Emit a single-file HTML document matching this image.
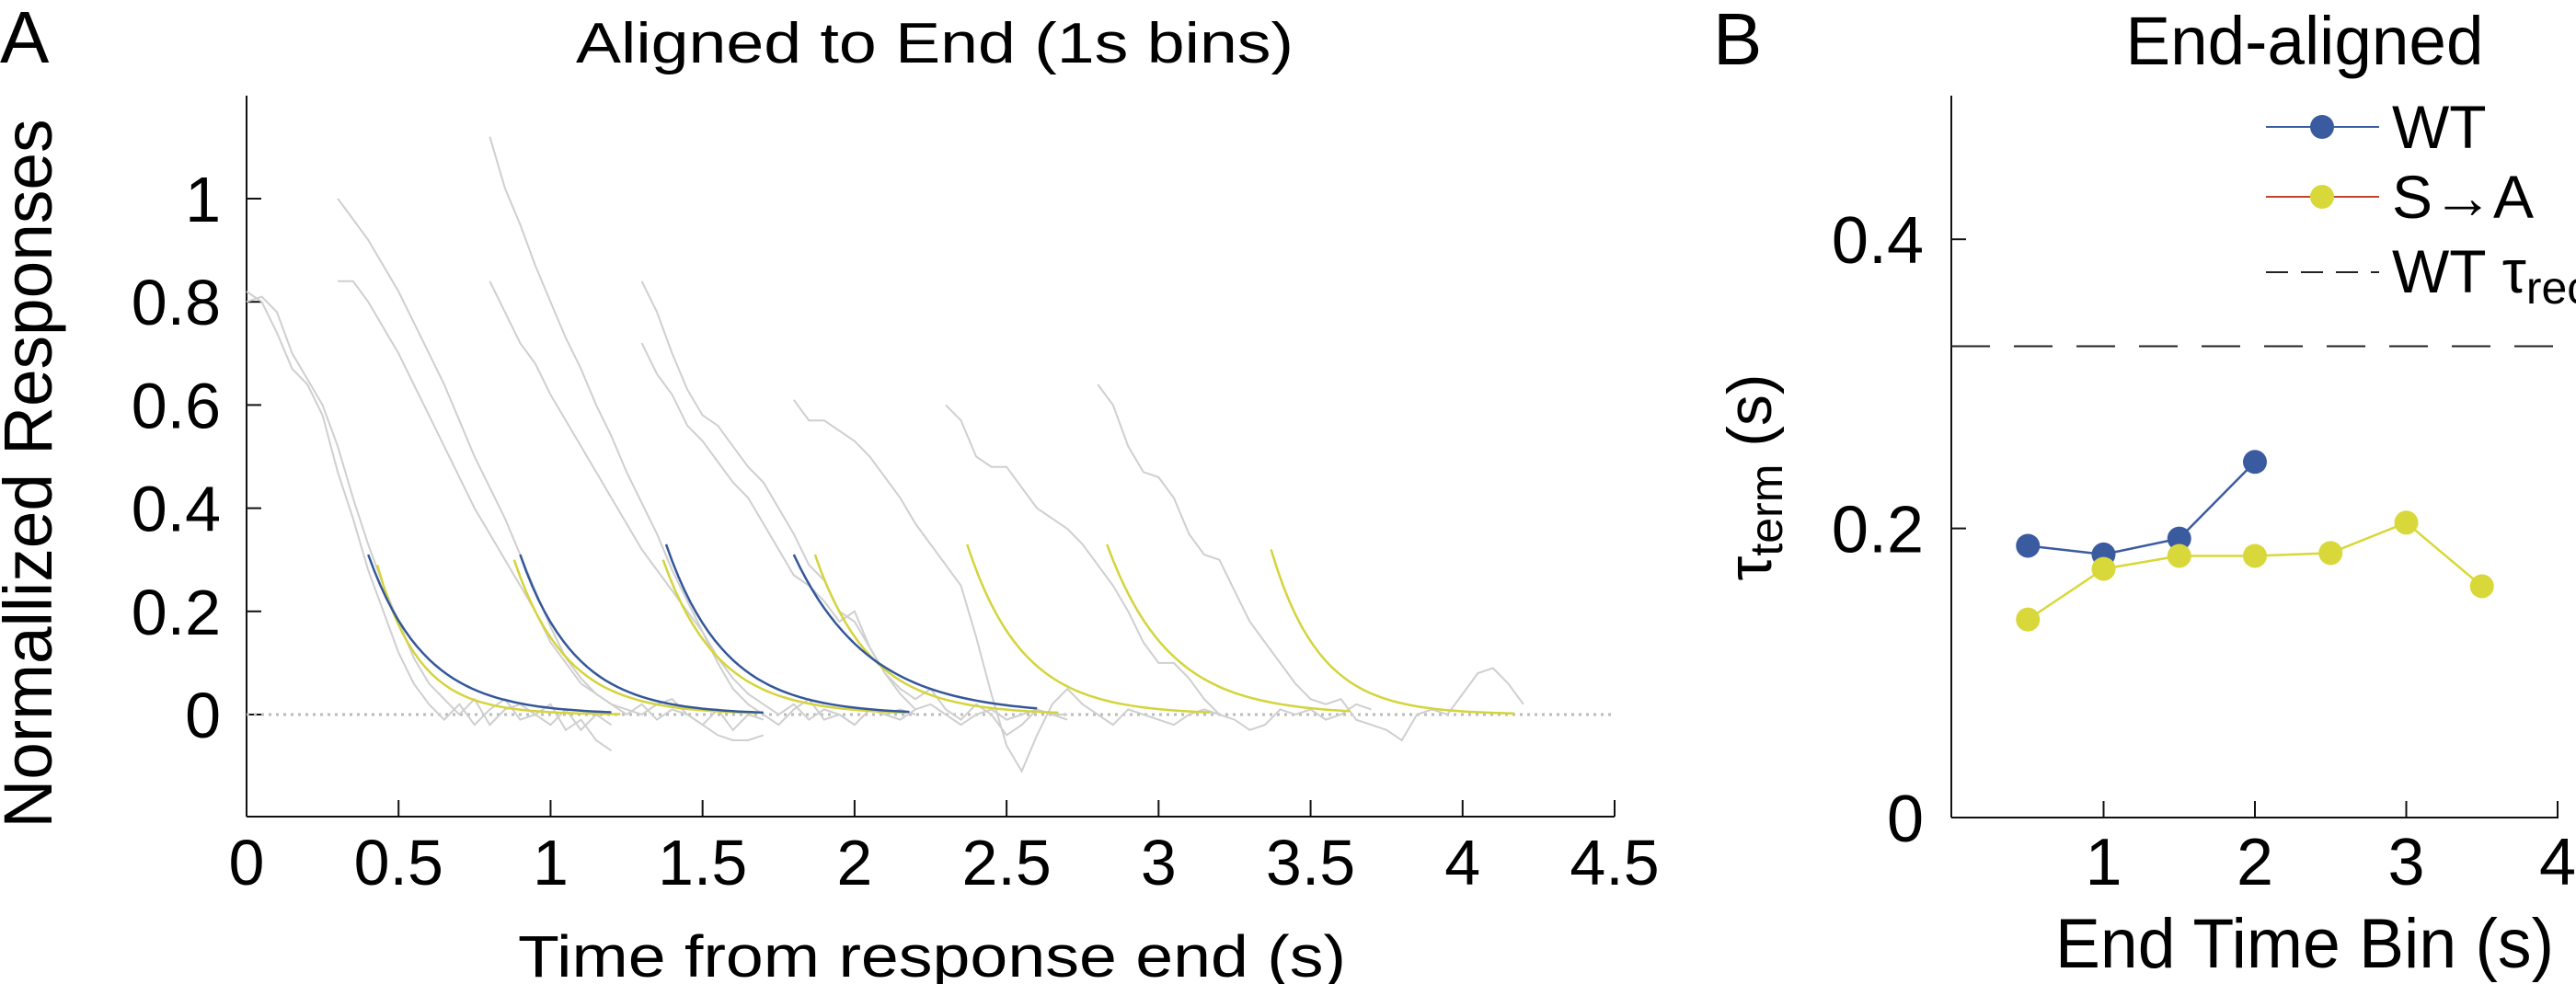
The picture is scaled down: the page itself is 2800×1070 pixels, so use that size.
<!DOCTYPE html>
<html><head><meta charset="utf-8"><style>
html,body{margin:0;padding:0;background:#fff;}
svg{display:block;font-family:"Liberation Sans",Arial,sans-serif;}
</style></head><body>
<svg id="fig" xmlns="http://www.w3.org/2000/svg" width="2800" height="1070" viewBox="0 0 2800 1070">
<rect width="2800" height="1070" fill="#fff"/>
<text x="0" y="68" font-size="80">A</text>
<text x="1016" y="68" font-size="62" text-anchor="middle" textLength="780" lengthAdjust="spacingAndGlyphs">Aligned to End (1s bins)</text>
<text x="1013" y="1062" font-size="64" text-anchor="middle" textLength="900" lengthAdjust="spacingAndGlyphs">Time from response end (s)</text>
<text transform="translate(56,515) rotate(-90)" font-size="74" text-anchor="middle" textLength="771" lengthAdjust="spacingAndGlyphs">Normallized Responses</text>
<g id="pa"></g>

<text x="1862" y="70" font-size="80">B</text>
<text x="2505" y="70" font-size="74" text-anchor="middle" textLength="389" lengthAdjust="spacingAndGlyphs">End-aligned</text>
<text x="2505" y="1052" font-size="76" text-anchor="middle" textLength="542" lengthAdjust="spacingAndGlyphs">End Time Bin (s)</text>
<text transform="translate(1925,519) rotate(-90)" font-size="68" text-anchor="middle">τ<tspan font-size="50" dy="12">term</tspan><tspan dy="-12"> (s)</tspan></text>
<g id="pb"></g>
<g>
  <g>
    <line x1="2463" y1="138" x2="2586" y2="138" stroke="#3a5ba0" stroke-width="2"/>
    <circle cx="2524" cy="138" r="13" fill="#3a5ba0"/>
    <text x="2600" y="161" font-size="66">WT</text>
  </g>
  <g>
    <line x1="2463" y1="214" x2="2586" y2="214" stroke="#c0452a" stroke-width="2"/>
    <circle cx="2524" cy="214" r="13" fill="#d8d83a"/>
    <text x="2600" y="237" font-size="66">S→A</text>
  </g>
  <g>
    <line x1="2463" y1="296" x2="2586" y2="296" stroke="#222" stroke-width="2" stroke-dasharray="24,14"/>
    <text x="2600" y="318" font-size="66">WT τ<tspan font-size="50" dy="12">rec</tspan></text>
  </g>
</g>
</svg>
<script>
// ---------- Panel A data ----------
const traceStarts = [0,0,0.3,0.3,0.8,0.8,1.3,1.3,1.8,2.3,2.8];
const traceDt = 0.05;
const traceValues = [
[0.82,0.80,0.74,0.67,0.64,0.58,0.47,0.38,0.28,0.20,0.12,0.06,0.02,-0.01,0.02,-0.02,0.01,0.03,-0.01,0.0,0.02,-0.03,-0.01,-0.05,-0.07],
[0.80,0.81,0.78,0.70,0.65,0.60,0.52,0.42,0.33,0.25,0.18,0.11,0.06,0.03,0.0,0.03,-0.02,0.01,0.02,0.0,-0.02,0.01,-0.03,0.0,-0.02],
[1.0,0.96,0.92,0.87,0.82,0.76,0.70,0.64,0.57,0.50,0.44,0.38,0.31,0.24,0.17,0.11,0.07,0.04,0.02,0.0,0.02,-0.01,0.01,0.0,-0.02,0.01,-0.03,0.0,-0.01],
[0.84,0.84,0.80,0.75,0.70,0.64,0.58,0.52,0.46,0.40,0.35,0.30,0.25,0.20,0.14,0.10,0.06,0.04,0.02,0.01,0.0,0.02,0.03,0.0,-0.02,-0.04,-0.05,-0.05,-0.04],
[1.12,1.02,0.95,0.87,0.80,0.73,0.67,0.60,0.54,0.47,0.41,0.35,0.28,0.22,0.16,0.11,0.07,0.04,0.02,0.0,0.02,-0.01,0.01,0.0,-0.02,0.01,0.0,0.01,0.0],
[0.84,0.78,0.72,0.68,0.62,0.57,0.52,0.47,0.42,0.37,0.32,0.28,0.24,0.20,0.16,0.10,0.05,0.02,0.0,-0.02,0.01,0.03,-0.01,0.0,-0.02,0.01,0.0,-0.01,0.01],
[0.84,0.78,0.70,0.63,0.58,0.56,0.52,0.48,0.45,0.40,0.35,0.29,0.26,0.20,0.18,0.13,0.08,0.05,0.03,0.05,0.01,-0.01,0.02,0.0,-0.04,-0.02,0.01,0.0,-0.01],
[0.72,0.66,0.62,0.56,0.53,0.49,0.45,0.42,0.37,0.32,0.27,0.25,0.22,0.18,0.20,0.13,0.08,0.04,0.01,0.02,0.0,-0.02,0.0,0.01,-0.01,0.0,0.01,0.0,0.0],
[0.61,0.57,0.57,0.55,0.53,0.50,0.46,0.42,0.37,0.33,0.29,0.25,0.15,0.04,-0.06,-0.11,-0.04,0.02,0.05,0.02,0.0,-0.02,0.01,0.0,-0.01,-0.02,0.0,0.01,0.0],
[0.60,0.57,0.50,0.48,0.48,0.44,0.40,0.38,0.36,0.33,0.29,0.25,0.20,0.14,0.10,0.10,0.07,0.03,0.0,-0.01,-0.03,-0.02,0.01,0.0,0.01,-0.01,0.0,0.02,0.01],
[0.64,0.60,0.52,0.47,0.46,0.42,0.35,0.31,0.30,0.24,0.18,0.14,0.10,0.06,0.03,0.02,0.03,-0.01,-0.02,-0.03,-0.05,0.0,0.01,0.0,0.04,0.08,0.09,0.06,0.02]
];
const wtFitStarts = [0.40,0.90,1.38,1.80];
const wtFitAmps = [0.31,0.31,0.33,0.31];
const wtFitTaus = [0.188,0.182,0.193,0.246];
const saFitStarts = [0.43,0.88,1.37,1.87,2.37,2.83,3.37];
const saFitAmps = [0.29,0.30,0.30,0.31,0.33,0.33,0.32];
const saFitTaus = [0.137,0.172,0.181,0.181,0.183,0.204,0.160];
const fitDuration = 0.8;
const aXTicks = [0,0.5,1,1.5,2,2.5,3,3.5,4,4.5];
const aXTickLabels = ["0","0.5","1","1.5","2","2.5","3","3.5","4","4.5"];
const aYTicks = [0,0.2,0.4,0.6,0.8,1];
const aYTickLabels = ["0","0.2","0.4","0.6","0.8","1"];

// ---------- Panel B data ----------
const wtBins = [0.5,1,1.5,2];
const wtTau = [0.188,0.182,0.193,0.246];
const saBins = [0.5,1,1.5,2,2.5,3,3.5];
const saTau = [0.137,0.172,0.181,0.181,0.183,0.204,0.160];
const wtTauRec = 0.326;
const bXTicks = [1,2,3,4];
const bXTickLabels = ["1","2","3","4"];
const bYTicks = [0,0.2,0.4];
const bYTickLabels = ["0","0.2","0.4"];

const NS = "http://www.w3.org/2000/svg";
function mk(tag, attrs, parent){const e=document.createElementNS(NS,tag);for(const k in attrs)e.setAttribute(k,attrs[k]);parent.appendChild(e);return e;}

// Panel A scales
const ax = t => 268 + t*(1755-268)/4.5;
const ay = v => 777 - v*561;
const pa = document.getElementById('pa');
let e;
e = mk('line',{x1:268,y1:104,x2:268,y2:888,stroke:'#111','stroke-width':2},pa);


e = mk('line',{x1:268,y1:888,x2:1755,y2:888,stroke:'#111','stroke-width':2},pa);


aXTicks.forEach((t,i)=>{
  const l = mk('line',{x1:ax(t),y1:888,x2:ax(t),y2:870,stroke:'#111','stroke-width':2},pa);
  
  
  const tx = mk('text',{x:ax(t),y:962,'font-size':70,'text-anchor':'middle'},pa);
  tx.textContent = aXTickLabels[i];
  
  
});
aYTicks.forEach((v,i)=>{
  const l = mk('line',{x1:268,y1:ay(v),x2:284,y2:ay(v),stroke:'#111','stroke-width':2},pa);
  
  
  const tx = mk('text',{x:240,y:ay(v)+25,'font-size':70,'text-anchor':'end'},pa);
  tx.textContent = aYTickLabels[i];
  
  
});
e = mk('line',{x1:ax(0),y1:ay(0),x2:ax(4.5),y2:ay(0),stroke:'#bbb','stroke-width':3,'stroke-dasharray':'3,5'},pa);


traceValues.forEach((vals,i)=>{
  const pts = vals.map((v,j)=>ax(traceStarts[i]+j*traceDt).toFixed(1)+','+ay(v).toFixed(1)).join(' ');
  const p = mk('polyline',{points:pts,fill:'none',stroke:'#cfcfcf','stroke-width':2},pa);
  
  
});
function drawFits(starts,amps,taus,color,name){
  starts.forEach((t0,i)=>{
    const pts=[];
    for(let k=0;k<=40;k++){const dt=fitDuration*k/40;pts.push(ax(t0+dt).toFixed(1)+','+ay(amps[i]*Math.exp(-dt/taus[i])).toFixed(1));}
    const p = mk('polyline',{points:pts.join(' '),fill:'none',stroke:color,'stroke-width':2.5},pa);
    
    
  });
}
drawFits(saFitStarts,saFitAmps,saFitTaus,'#d4d43c','s-to-a-fit-curve');
drawFits(wtFitStarts,wtFitAmps,wtFitTaus,'#34579a','wt-fit-curve');

// Panel B scales
const bx = t => 2122 + t*(2780-2122)/4;
const by = v => 889 - v*1572;
const pb = document.getElementById('pb');
e = mk('line',{x1:2121,y1:104,x2:2121,y2:889,stroke:'#111','stroke-width':2},pb);


e = mk('line',{x1:2121,y1:889,x2:2781,y2:889,stroke:'#111','stroke-width':2},pb);


bXTicks.forEach((t,i)=>{
  const l = mk('line',{x1:bx(t),y1:889,x2:bx(t),y2:871,stroke:'#111','stroke-width':2},pb);
  
  
  const tx = mk('text',{x:bx(t),y:962,'font-size':72,'text-anchor':'middle'},pb);
  tx.textContent = bXTickLabels[i];
  
  
});
bYTicks.forEach((v,i)=>{
  const l = mk('line',{x1:2121,y1:by(v),x2:2137,y2:by(v),stroke:'#111','stroke-width':2},pb);
  
  
  const tx = mk('text',{x:2091,y:by(v)+26,'font-size':72,'text-anchor':'end'},pb);
  tx.textContent = bYTickLabels[i];
  
  
});
e = mk('line',{x1:2121,y1:by(wtTauRec),x2:2790,y2:by(wtTauRec),stroke:'#222','stroke-width':2,'stroke-dasharray':'42,26'},pb);


function series(xs,ys,color,name){
  const p = mk('polyline',{points:xs.map((x,i)=>bx(x)+','+by(ys[i])).join(' '),fill:'none',stroke:color,'stroke-width':2.5},pb);
  
  
  xs.forEach((x,i)=>{
    const c = mk('circle',{cx:bx(x),cy:by(ys[i]),r:13,fill:color},pb);
    
    
  });
}
series(wtBins,wtTau,'#3a5ba0','wt');
series(saBins,saTau,'#d8d83a','s-to-a');
</script>
</body></html>
